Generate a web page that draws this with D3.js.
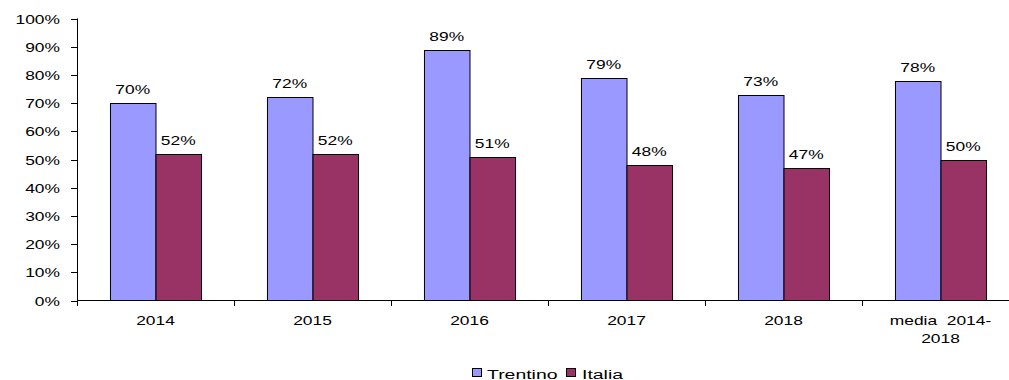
<!DOCTYPE html>
<html>
<head>
<meta charset="utf-8">
<script src="https://cdn.jsdelivr.net/npm/d3@7"></script>
<style>
  html, body { margin: 0; padding: 0; background: #fff; }
  svg { display: block; }
  text { font-family: "Liberation Sans", Arial, sans-serif; fill: #000; white-space: pre; }
</style>
</head>
<body>
<div id="chart"></div>
<script>
// Categories and series values (percent)
const categories = ["2014", "2015", "2016", "2017", "2018", "media 2014-2018"];
const categoryLines = [["2014"], ["2015"], ["2016"], ["2017"], ["2018"], ["media  2014-", "2018"]];
const seriesNames = ["Trentino", "Italia"];
const trentino = [70, 72, 89, 79, 73, 78];
const italia = [52, 52, 51, 48, 47, 50];
const yTicks = [0, 10, 20, 30, 40, 50, 60, 70, 80, 90, 100];
const colors = ["#9999FF", "#993366"];

const W = 1009, H = 380;
const SX = 1.45;      // horizontal stretch of the lettering
const FS = 12;

const svg = d3.select("#chart").append("svg")
  .attr("width", W).attr("height", H);

const x0 = d3.scaleBand().domain(categories)
  .range([77, 1019]).paddingInner(0.42).paddingOuter(0.21);
const x1 = d3.scaleBand().domain(seriesNames).range([0, x0.bandwidth()]);
const y = d3.scaleLinear().domain([0, 100]).range([300.5, 18.5]);

function label(g, text, x, yy, anchor, sx) {
  return g.append("text")
    .attr("transform", `translate(${x},${yy}) scale(${sx || SX},1)`)
    .attr("text-anchor", anchor)
    .style("font-size", FS + "px")
    .text(text);
}

const data = categories.map((c, i) => ({
  cat: c,
  values: [
    { name: seriesNames[0], v: trentino[i] },
    { name: seriesNames[1], v: italia[i] }
  ]
}));

// Bars
const groups = svg.selectAll("g.cat").data(data).join("g")
  .attr("class", "cat")
  .attr("transform", d => `translate(${x0(d.cat)},0)`);

groups.selectAll("rect").data(d => d.values).join("rect")
  .attr("x", d => x1(d.name) + 0.5)
  .attr("y", d => Math.round(y(d.v)) + 0.5)
  .attr("width", x1.bandwidth())
  .attr("height", d => y(0) - Math.round(y(d.v)) - 0.5)
  .attr("fill", (d, i) => colors[i])
  .attr("stroke", "#000")
  .attr("stroke-width", 1);

// Value labels
groups.each(function(d) {
  const g = d3.select(this);
  d.values.forEach(v => {
    label(g, v.v + "%", x1(v.name) + x1.bandwidth() / 2, y(v.v) - 9, "middle");
  });
});

// Y axis
const yAxis = svg.append("g");
yAxis.append("line")
  .attr("x1", 77.5).attr("x2", 77.5)
  .attr("y1", y(100)).attr("y2", y(0))
  .attr("stroke", "#000");
yTicks.forEach(t => {
  const yy = Math.round(y(t)) + 0.5;
  yAxis.append("line")
    .attr("x1", 71).attr("x2", 77.5)
    .attr("y1", yy).attr("y2", yy)
    .attr("stroke", "#000");
  label(yAxis, t + "%", 60, yy + 4.5, "end");
});

// X axis
const xAxis = svg.append("g");
xAxis.append("line")
  .attr("x1", 77).attr("x2", x0.range()[1])
  .attr("y1", 300.5).attr("y2", 300.5)
  .attr("stroke", "#000");
for (let i = 0; i <= categories.length; i++) {
  const xx = Math.round(x0.range()[0] + i * x0.step()) + 0.5;
  xAxis.append("line")
    .attr("x1", xx).attr("x2", xx)
    .attr("y1", 300.5).attr("y2", 306)
    .attr("stroke", "#000");
}
categories.forEach((c, i) => {
  const cx = x0(c) + x0.bandwidth() / 2;
  categoryLines[i].forEach((ln, j) => {
    label(xAxis, ln, cx, 325 + j * 18, "middle");
  });
});

// Legend
const legend = svg.append("g");
const legendItems = [
  { name: seriesNames[0], sq: 472, tx: 487 },
  { name: seriesNames[1], sq: 566, tx: 582 }
];
legendItems.forEach((it, i) => {
  legend.append("rect")
    .attr("x", it.sq + 0.5).attr("y", 368.5)
    .attr("width", 9).attr("height", 8)
    .attr("fill", colors[i]).attr("stroke", "#000");
  label(legend, it.name, it.tx, 378.5, "start", 1.62);
});
</script>
</body>
</html>
